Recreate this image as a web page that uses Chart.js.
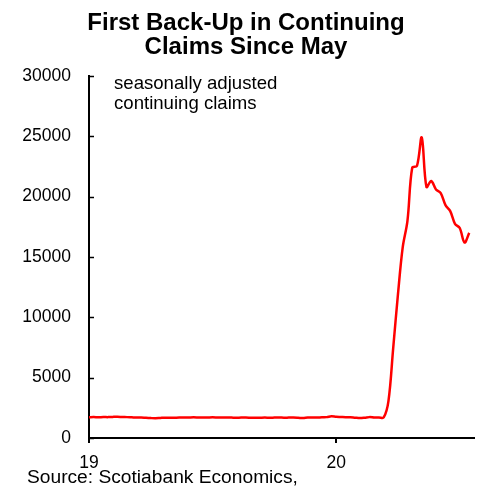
<!DOCTYPE html>
<html>
<head>
<meta charset="utf-8">
<script src="https://cdn.jsdelivr.net/npm/chart.js@4/dist/chart.umd.min.js"></script>
<style>
	html, body { margin: 0; padding: 0; background: #fff; }
	#wrap { width: 481px; height: 486px; }
</style>
</head>
<body>
<div id="wrap"><canvas id="claims"></canvas></div>
<script>
// continuing claims, seasonally adjusted, thousands (week ending Saturday)
const claims2019 = [
	1720, 1730, 1710, 1740, 1730, 1750, 1760, 1740, 1730, 1710, 1690, 1700, 1670,
	1650, 1640, 1660, 1680, 1670, 1680, 1690, 1690, 1700, 1710, 1700, 1690, 1700,
	1710, 1700, 1690, 1700, 1690, 1680, 1690, 1690, 1680, 1670, 1680, 1690, 1680,
	1690, 1700, 1680, 1690, 1700, 1680, 1650, 1690, 1700, 1690, 1720, 1730, 1800,
];
const claims2020 = [
	1760, 1740, 1720, 1720, 1680, 1650, 1680, 1730, 1700, 1700, 1700,
	3060, 7450, 11900, 15800, 18000, 22400, 22550, 24900,
	20800, 21300, 20600, 20300, 19300, 18800, 17750, 17400, 16200, 17000,
];
const firstWeek = '2019-01-05';
const lastWeek = '2020-07-25';
const yTicks = [0, 5000, 10000, 15000, 20000, 25000, 30000];

const titleLines = ['First Back-Up in Continuing', 'Claims Since May'];
const noteLines = ['seasonally adjusted', 'continuing claims'];
const sourceText = 'Source: Scotiabank Economics,';

const weekEnding = [];
for (let d = new Date(firstWeek + 'T00:00:00Z'); d <= new Date(lastWeek + 'T00:00:00Z'); d.setUTCDate(d.getUTCDate() + 7)) {
	weekEnding.push(d.toISOString().slice(0, 10));
}
const claims = claims2019.concat(claims2020);

Chart.defaults.font.family = "'Liberation Sans', Arial, sans-serif";
Chart.defaults.color = '#000';

// small inward ticks on the y axis, plus the note and the source line
const extras = {
	id: 'extras',
	afterDraw(chart) {
		const ctx = chart.ctx;
		const y = chart.scales.y;
		const left = chart.chartArea.left;
		ctx.save();
		ctx.strokeStyle = '#000';
		ctx.lineWidth = 1.5;
		y.ticks.forEach(t => {
			const py = Math.round(y.getPixelForValue(t.value)) + 0.5;
			ctx.beginPath();
			ctx.moveTo(left, py);
			ctx.lineTo(left + 5, py);
			ctx.stroke();
		});
		ctx.fillStyle = '#000';
		ctx.textBaseline = 'middle';
		ctx.font = "18.6px 'Liberation Sans', Arial, sans-serif";
		noteLines.forEach((s, i) => ctx.fillText(s, 114, 84 + i * 20));
		ctx.font = "19.2px 'Liberation Sans', Arial, sans-serif";
		ctx.fillText(sourceText, 27, 478);
		ctx.restore();
	}
};

new Chart(document.getElementById('claims'), {
	type: 'line',
	data: {
		labels: weekEnding,
		datasets: [
			{
				label: 'Continuing claims',
				data: claims,
				borderColor: '#ff0000',
				borderWidth: 2.5,
				pointRadius: 0,
				tension: 0.35,
				fill: false,
			},
		],
	},
	options: {
		responsive: true,
		maintainAspectRatio: false,
		animation: false,
		layout: { padding: { left: 18, right: 7, top: 0, bottom: 0 } },
		plugins: {
			legend: { display: false },
			tooltip: { enabled: false },
			title: {
				display: true,
				text: titleLines,
				font: { size: 24, weight: 'bold', lineHeight: 1.0 },
				color: '#000',
				padding: { top: 11, bottom: 17 },
			},
		},
		scales: {
			x: {
				type: 'category',
				offset: false,
				afterFit: s => { s.height = 48; },
				afterBuildTicks: s => {
					s.ticks = s.ticks.filter(t => t.value === 0 ||
						weekEnding[t.value].slice(0, 4) !== weekEnding[t.value - 1].slice(0, 4));
				},
				grid: { drawOnChartArea: false, drawTicks: true, tickLength: 5, color: '#000', lineWidth: 2 },
				border: { display: true, color: '#000', width: 2 },
				ticks: {
					autoSkip: false,
					maxRotation: 0,
					padding: 10,
					font: { size: 17.5 },
					callback: v => weekEnding[v].slice(2, 4),
				},
			},
			y: {
				min: 0,
				max: 30000,
				afterFit: s => { s.width = 71; },
				afterBuildTicks: s => { s.ticks = yTicks.map(v => ({ value: v })); },
				grid: { display: false, drawTicks: false },
				border: { display: true, color: '#000', width: 2 },
				ticks: {
					padding: 18,
					font: { size: 17.5 },
					callback: v => String(v),
				},
			},
		},
	},
	plugins: [extras],
});
</script>
</body>
</html>
